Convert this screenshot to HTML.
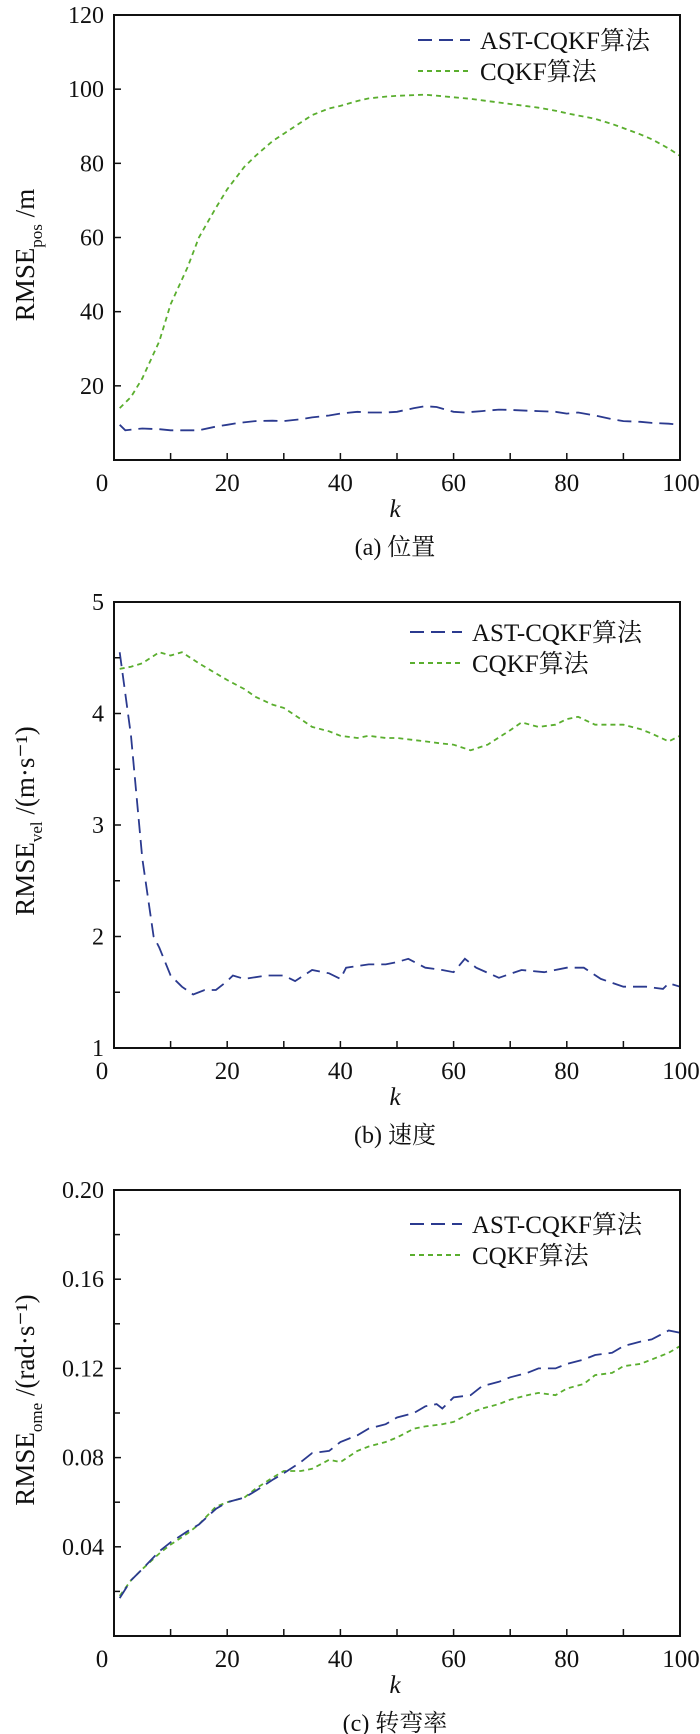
<!DOCTYPE html>
<html><head><meta charset="utf-8">
<style>
html,body{margin:0;padding:0;background:#fff;}
svg{display:block;}
text{font-family:"Liberation Serif","Noto Serif CJK SC","Noto Sans CJK SC",serif;fill:#111;}
</style></head>
<body>
<svg id="chart" width="700" height="1734" viewBox="0 0 700 1734" xmlns="http://www.w3.org/2000/svg"></svg>
<script>
// ---- data (a) position ----
const kA_ast = [1,2,5,8,10,13,15,18,20,22,25,28,30,33,35,38,40,43,45,48,50,53,55,57,60,62,65,68,70,73,75,78,80,82,85,88,90,93,95,98,100];
const posAst = [9.5,8,8.5,8.3,8,8,8,9,9.5,10,10.5,10.6,10.5,11,11.5,12,12.5,13,12.8,12.8,13,14,14.5,14.3,13,12.8,13.2,13.6,13.5,13.3,13.2,13,12.5,12.8,12,11,10.5,10.3,10,9.8,9.5];
const kA_cq = [1,3,5,8,10,13,15,18,20,23,25,28,30,33,35,38,40,43,45,48,50,53,55,58,60,63,65,68,70,73,75,78,80,83,85,88,90,93,95,98,100];
const posCq = [14,17,22,32,42,52,60,68,73,79,82,86,88,91,93,94.8,95.5,96.8,97.5,98,98.2,98.4,98.5,98.1,97.8,97.4,97,96.4,96,95.4,95,94.2,93.5,92.6,92,90.6,89.5,87.8,86.5,84,82];
// ---- data (b) velocity ----
const kB_ast = [1,3,5,7,8,10,12,14,16,18,20,21,23,27,30,32,35,38,40,41,45,48,50,52,55,58,60,62,64,68,72,76,80,83,86,90,94,97,98,100];
const velAst = [4.55,3.8,2.7,2.0,1.9,1.65,1.55,1.48,1.52,1.52,1.6,1.65,1.62,1.65,1.65,1.6,1.7,1.67,1.62,1.72,1.75,1.75,1.77,1.8,1.72,1.7,1.68,1.8,1.72,1.63,1.7,1.68,1.72,1.72,1.62,1.55,1.55,1.53,1.58,1.55];
const kB_cq = [1,3,5,8,10,12,15,18,20,23,25,28,30,33,35,38,40,43,45,48,50,55,58,60,63,66,70,72,75,78,80,82,85,88,90,93,95,98,100];
const velCq = [4.4,4.42,4.45,4.55,4.52,4.55,4.45,4.36,4.3,4.22,4.15,4.08,4.05,3.95,3.88,3.84,3.8,3.78,3.8,3.78,3.78,3.75,3.73,3.72,3.67,3.72,3.85,3.92,3.88,3.9,3.95,3.97,3.9,3.9,3.9,3.86,3.82,3.75,3.8];
// ---- data (c) turn rate ----
const kC_ast = [1,3,5,8,10,13,15,18,20,23,25,28,30,33,35,38,40,43,45,48,50,53,55,57,58,60,63,65,68,70,73,75,78,80,83,85,88,90,93,95,98,100];
const omeAst = [0.017,0.025,0.03,0.038,0.042,0.047,0.05,0.057,0.06,0.062,0.065,0.07,0.073,0.078,0.082,0.083,0.087,0.09,0.093,0.095,0.098,0.1,0.103,0.104,0.102,0.107,0.108,0.112,0.114,0.116,0.118,0.12,0.12,0.122,0.124,0.126,0.127,0.13,0.132,0.133,0.137,0.136];
const kC_cq = [1,3,5,8,10,13,15,18,20,23,25,28,30,33,35,38,40,43,45,48,50,53,55,58,60,63,65,68,70,73,75,78,80,83,85,88,90,93,95,98,100];
const omeCq = [0.018,0.025,0.03,0.037,0.041,0.046,0.05,0.058,0.06,0.062,0.066,0.071,0.074,0.074,0.075,0.079,0.078,0.083,0.085,0.087,0.089,0.093,0.094,0.095,0.096,0.1,0.102,0.104,0.106,0.108,0.109,0.108,0.111,0.113,0.117,0.118,0.121,0.122,0.124,0.127,0.13];
const ticksA = [20,40,60,80,100,120];
const ticksB = [1,2,3,4,5];
const ticksC = [0.04,0.08,0.12,0.16,0.20];
const xTicks = [0,20,40,60,80,100];
const legendNames = ["AST-CQKF算法","CQKF算法"];

const NS="http://www.w3.org/2000/svg";
const svg=document.getElementById('chart');
function el(tag,attrs,parent){const e=document.createElementNS(NS,tag);for(const k in attrs)e.setAttribute(k,attrs[k]);(parent||svg).appendChild(e);return e;}

const L=114,R=680;
function xs(k){return L+(R-L)*k/100;}

function panel(p){
  const g=el('g',{});
  
  
  const ys=v=>p.bot-(p.bot-p.top)*(v-p.min)/(p.max-p.min);
  const series=[[p.kc,p.vc,'#5aae2e','5,4','cqkf-line'],[p.ka,p.va,'#2b3a8f','14,7','ast-cqkf-line']];
  series.forEach(s=>{
    let d='';s[0].forEach((k,i)=>{d+=(i?'L':'M')+xs(k).toFixed(1)+','+ys(s[1][i]).toFixed(1);});
    const pa=el('path',{d:d,fill:'none',stroke:s[2],'stroke-width':1.8,'stroke-dasharray':s[3]},g);
    
    
  });
  const box=el('rect',{x:L,y:p.top,width:R-L,height:p.bot-p.top,fill:'none',stroke:'#111','stroke-width':2},g);
  
  
  for(let k=10;k<100;k+=10){el('line',{x1:xs(k),x2:xs(k),y1:p.bot,y2:p.bot-7,stroke:'#111','stroke-width':1.5},g);}
  xTicks.forEach(k=>{
    const t=el('text',{x:k===0?102:(k===100?681:xs(k)),y:p.bot+31,'font-size':25,'text-anchor':'middle'},g);
    t.textContent=k;
    
    
  });
  p.minor.forEach(v=>{el('line',{x1:L,x2:L+6,y1:ys(v),y2:ys(v),stroke:'#111','stroke-width':1.5},g);});
  p.ticks.forEach(v=>{
    el('line',{x1:L,x2:L+7,y1:ys(v),y2:ys(v),stroke:'#111','stroke-width':1.5},g);
    const t=el('text',{x:104,y:ys(v)+8,'font-size':24,'text-anchor':'end'},g);
    t.textContent=p.fmt(v);
    
    
  });
  const kx=el('text',{x:395,y:p.bot+57,'font-size':25,'font-style':'italic','text-anchor':'middle'},g);
  kx.textContent='k';
  
  
  const cap=el('text',{x:395,y:p.bot+95,'font-size':24,'text-anchor':'middle'},g);
  cap.textContent=p.caption;
  
  
  const yt=el('text',{x:0,y:0,'font-size':27,'text-anchor':'middle',transform:'translate(34,'+p.ymid+') rotate(-90)'},g);
  
  
  yt.innerHTML='RMSE<tspan font-size="17" dy="8">'+p.sub+'</tspan><tspan dy="-8"> '+p.unit+'</tspan>';
  const lg=el('g',{},g);
  
  
  [[p.leg,'#2b3a8f','14,7'],[p.leg+31,'#5aae2e','5,4']].forEach((r,i)=>{
    el('line',{x1:p.legx,x2:p.legx+52,y1:r[0],y2:r[0],stroke:r[1],'stroke-width':2,'stroke-dasharray':r[2]},lg);
    const t=el('text',{x:p.legx+62,y:r[0]+9,'font-size':25},lg);
    t.textContent=legendNames[i];
    
    
  });
}
panel({id:'position',top:15,bot:460,min:0,max:120,ticks:ticksA,minor:[],fmt:v=>String(v),ka:kA_ast,va:posAst,kc:kA_cq,vc:posCq,caption:'(a) 位置',sub:'pos',unit:'/m',ymid:255,leg:40,legx:418});
panel({id:'velocity',top:602,bot:1048,min:1,max:5,ticks:ticksB,minor:[1.5,2.5,3.5,4.5],fmt:v=>String(v),ka:kB_ast,va:velAst,kc:kB_cq,vc:velCq,caption:'(b) 速度',sub:'vel',unit:'/(m·s⁻¹)',ymid:821,leg:632,legx:410});
panel({id:'turn-rate',top:1190,bot:1636,min:0,max:0.2,ticks:ticksC,minor:[0.02,0.06,0.10,0.14,0.18],fmt:v=>v.toFixed(2),ka:kC_ast,va:omeAst,kc:kC_cq,vc:omeCq,caption:'(c) 转弯率',sub:'ome',unit:'/(rad·s⁻¹)',ymid:1400,leg:1224,legx:410});
</script>
</body></html>
